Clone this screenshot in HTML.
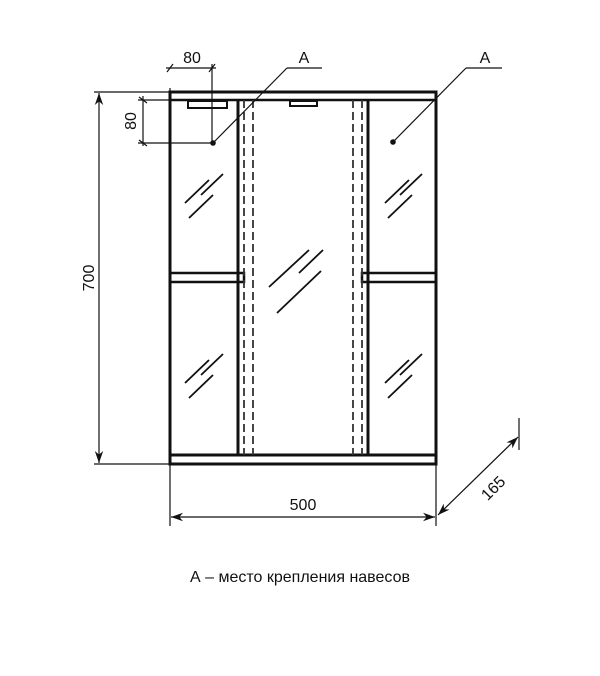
<!DOCTYPE html>
<html><head><meta charset="utf-8"><style>
html,body{margin:0;padding:0;background:#fff;}
svg{display:block;}
text{font-family:"Liberation Sans",sans-serif;fill:#111;}
</style></head><body>
<svg width="600" height="676" viewBox="0 0 600 676" xmlns="http://www.w3.org/2000/svg">
<defs>
<marker id="ar" viewBox="0 0 10 10" refX="10" refY="5" markerWidth="12" markerHeight="12" orient="auto-start-reverse" markerUnits="userSpaceOnUse">
<path d="M0,1.5 L10,5 L0,8.5 L3,5 Z" fill="#111"/></marker>
</defs>
<g stroke="#111" fill="none">
<rect x="170" y="92" width="266" height="372" stroke-width="3"/>
<line x1="170" y1="100" x2="436" y2="100" stroke-width="2.5"/>
<line x1="170" y1="455" x2="436" y2="455" stroke-width="3"/>
<line x1="238" y1="100" x2="238" y2="455" stroke-width="3"/>
<line x1="368" y1="100" x2="368" y2="455" stroke-width="3"/>
<rect x="170" y="273" width="74" height="9" stroke-width="2.5"/>
<rect x="362" y="273" width="74" height="9" stroke-width="2.5"/>
<g stroke-dasharray="8,4" stroke-width="1.8" stroke="#333">
<line x1="244" y1="100" x2="244" y2="455"/>
<line x1="253" y1="100" x2="253" y2="455"/>
<line x1="353" y1="100" x2="353" y2="455"/>
<line x1="362" y1="100" x2="362" y2="455"/>
</g>
<rect x="188" y="101" width="39" height="7" stroke-width="2"/>
<rect x="290" y="101" width="27" height="5" stroke-width="2"/>
<g stroke-width="1.8">
<line x1="185" y1="383" x2="209" y2="360"/><line x1="201" y1="375" x2="223" y2="354"/><line x1="189" y1="398" x2="213" y2="375"/>
<line x1="385" y1="383" x2="409" y2="360"/><line x1="400" y1="375" x2="422" y2="354"/><line x1="388" y1="398" x2="412" y2="375"/>
<line x1="185" y1="203" x2="209" y2="180"/><line x1="201" y1="195" x2="223" y2="174"/><line x1="189" y1="218" x2="213" y2="195"/>
<line x1="385" y1="203" x2="409" y2="180"/><line x1="400" y1="195" x2="422" y2="174"/><line x1="388" y1="218" x2="412" y2="195"/>
<line x1="269" y1="287" x2="309" y2="250"/><line x1="299" y1="273" x2="323" y2="250"/><line x1="277" y1="313" x2="321" y2="271"/>
</g>
<g stroke-width="1.2">
<line x1="170" y1="88" x2="170" y2="526"/>
<line x1="436" y1="464" x2="436" y2="526"/>
<line x1="94" y1="92" x2="170" y2="92"/>
<line x1="94" y1="464" x2="170" y2="464"/>
<line x1="99" y1="93" x2="99" y2="463" marker-start="url(#ar)" marker-end="url(#ar)"/>
<line x1="171" y1="517" x2="435" y2="517" marker-start="url(#ar)" marker-end="url(#ar)"/>
<line x1="438" y1="515" x2="518" y2="437" marker-start="url(#ar)" marker-end="url(#ar)"/>
<line x1="519" y1="418" x2="519" y2="450"/>
<line x1="166" y1="68" x2="216" y2="68"/>
<line x1="212" y1="64" x2="212" y2="143"/>
<line x1="167" y1="72" x2="173" y2="64"/><line x1="209" y1="72" x2="215" y2="64"/>
<line x1="138" y1="100" x2="170" y2="100"/>
<line x1="138" y1="143" x2="213" y2="143"/>
<line x1="143" y1="96" x2="143" y2="146"/>
<line x1="139" y1="97" x2="147" y2="103"/><line x1="139" y1="140" x2="147" y2="146"/>
<line x1="213" y1="143" x2="287" y2="68"/><line x1="287" y1="68" x2="322" y2="68"/>
<line x1="393" y1="142" x2="466" y2="68"/><line x1="466" y1="68" x2="502" y2="68"/>
</g>
<circle cx="213" cy="143" r="2.8" fill="#111" stroke="none"/>
<circle cx="393" cy="142" r="2.8" fill="#111" stroke="none"/>
</g>
<text x="192" y="63" font-size="16" text-anchor="middle">80</text>
<text x="304" y="63" font-size="16" text-anchor="middle">A</text>
<text x="485" y="63" font-size="16" text-anchor="middle">A</text>
<text x="0" y="0" font-size="16" text-anchor="middle" transform="translate(136,121) rotate(-90)">80</text>
<text x="0" y="0" font-size="16" text-anchor="middle" transform="translate(94,278) rotate(-90)">700</text>
<text x="303" y="510" font-size="16" text-anchor="middle">500</text>
<text x="0" y="0" font-size="16" text-anchor="middle" transform="translate(497,492) rotate(-45)">165</text>
<text x="300" y="582" font-size="16" text-anchor="middle">А – место крепления навесов</text>
</svg>
</body></html>
